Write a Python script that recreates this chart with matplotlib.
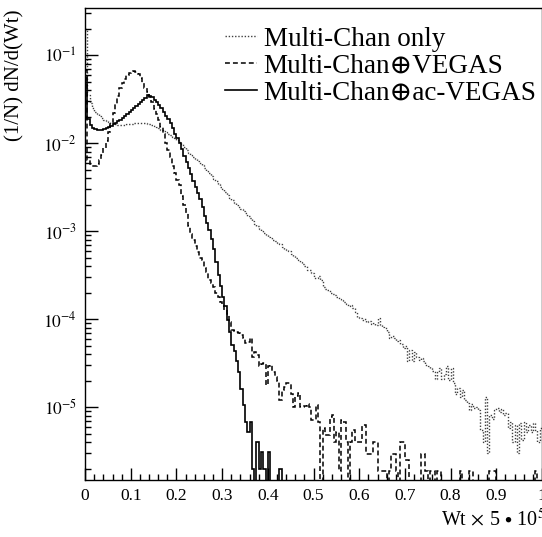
import numpy as np
import matplotlib
matplotlib.use("Agg")
import matplotlib.pyplot as plt
from matplotlib.ticker import FixedLocator, LogLocator, NullFormatter, MultipleLocator

plt.rcParams['font.family'] = ['Liberation Serif', 'DejaVu Serif']
plt.rcParams['mathtext.fontset'] = 'stix'

# histogram bin width (200 bins over [0, 1])
bin_w = 0.005

# Multi-Chan only (dotted)
mc_only = [
    0.2, 0.035, 0.0285, 0.025, 0.0225, 0.0214, 0.0203, 0.0192, 0.0182, 0.0178,
    0.0173, 0.0169, 0.0165, 0.0163, 0.016, 0.016, 0.016, 0.016, 0.0163, 0.0165,
    0.0165, 0.0167, 0.0167, 0.0169, 0.0169, 0.0169, 0.0167, 0.0165, 0.0163, 0.016,
    0.0156, 0.0152, 0.0148, 0.0142, 0.0137, 0.0132, 0.0127, 0.0122, 0.0117, 0.0113,
    0.0108, 0.0103, 0.0097, 0.009, 0.0083, 0.0077, 0.0073, 0.0069, 0.0066, 0.0063,
    0.0059, 0.0056, 0.0052, 0.0048, 0.0046, 0.0042, 0.0039, 0.0037, 0.0034, 0.0032,
    0.003, 0.0028, 0.0026, 0.0024, 0.00225, 0.0021, 0.0020, 0.0019, 0.0018, 0.0017,
    0.0016, 0.0015, 0.0014, 0.00129, 0.0012, 0.00114, 0.00105, 0.001, 0.00095, 0.0009,
    8.5e-4, 8.3e-4, 7.9e-4, 7.7e-4, 7.3e-4, 7.1e-4, 6.6e-4, 6.2e-4, 6.1e-4, 5.9e-4,
    5.5e-4, 5.2e-4, 5.0e-4, 4.7e-4, 4.4e-4, 4.2e-4, 4.0e-4, 3.6e-4, 3.6e-4, 3.3e-4,
    2.9e-4, 2.9e-4, 3.1e-4, 2.8e-4, 2.3e-4, 2.2e-4, 2.15e-4, 2.0e-4, 1.95e-4, 1.9e-4,
    1.8e-4, 1.7e-4, 1.64e-4, 1.55e-4, 1.5e-4, 1.42e-4, 1.46e-4, 1.35e-4, 1.2e-4, 1.06e-4,
    1.03e-4, 9.7e-5, 1.0e-4, 9.2e-5, 9.4e-5, 8.8e-5, 9.0e-5, 8.6e-5, 1.03e-4, 8.5e-5,
    8.2e-5, 7.9e-5, 7.2e-5, 6.1e-5, 6.4e-5, 6.1e-5, 5.6e-5, 5.8e-5, 5.2e-5, 4.7e-5,
    4.9e-5, 3.3e-5, 4.4e-5, 3.3e-5, 4.2e-5, 3.7e-5, 3.4e-5, 3.6e-5, 3.3e-5, 3.0e-5,
    2.9e-5, 2.8e-5, 2.6e-5, 2.1e-5, 2.5e-5, 2.8e-5, 2.1e-5, 2.4e-5, 2.9e-5, 2.05e-5,
    2.8e-5, 1.9e-5, 1.4e-5, 1.65e-5, 1.3e-5, 1.56e-5, 1.2e-5, 1.1e-5, 9.2e-6, 1.07e-5,
    9.7e-6, 1.0e-5, 9.2e-6, 5.5e-6, 4.0e-6, 1.3e-5, 3.0e-6, 8.1e-6, 7.4e-6, 9.2e-6,
    9.7e-6, 8.8e-6, 9.4e-6, 8.1e-6, 8.5e-6, 5.8e-6, 6.8e-6, 4.0e-6, 6.3e-6, 3.0e-6,
    6.6e-6, 4.2e-6, 6.8e-6, 5.2e-6, 6.3e-6, 5.2e-6, 6.6e-6, 5.5e-6, 4.0e-6, 5.8e-6,
]

# Multi-Chan + VEGAS (dashed)
mc_vegas = [
    0.067, 0.0064, 0.0058, 0.0055, 0.0055, 0.0058, 0.0064, 0.0073, 0.0088, 0.0105,
    0.0133, 0.0169, 0.022, 0.0277, 0.0342, 0.0422, 0.048, 0.0533, 0.0593, 0.0624,
    0.065, 0.0658, 0.064, 0.0608, 0.0548, 0.048, 0.0422, 0.038, 0.0333, 0.0293,
    0.0243, 0.0214, 0.0182, 0.0152, 0.0127, 0.0100, 0.0083, 0.0069, 0.0055, 0.0046,
    0.0038, 0.0033, 0.0025, 0.0020, 0.0016, 0.00114, 0.00093, 0.00079, 0.00068, 0.00058,
    0.0005, 0.00047, 0.00038, 0.00034, 0.00028, 0.00026, 0.00023, 1.96e-4, 1.8e-4, 1.55e-4,
    1.42e-4, 1.27e-4, 1.13e-4, 9.3e-5, 7.5e-5, 7.3e-5, 7.1e-5, 7.0e-5, 6.6e-5, 6.1e-5,
    5.3e-5, 5.5e-5, 6.1e-5, 3.7e-5, 4.2e-5, 3.9e-5, 2.9e-5, 3.1e-5, 3.2e-5, 1.77e-5,
    2.9e-5, 3.0e-5, 2.5e-5, 2.2e-5, 2.0e-5, 1.2e-5, 1.56e-5, 1.7e-5, 1.9e-5, 1.9e-5,
    1.4e-5, 1.01e-5, 1.32e-5, 1.45e-5, 1.01e-5, 1.01e-5, 1.02e-5, 1.07e-5, 1.01e-5, 7.1e-6,
    7.1e-6, 1.05e-5, 6.8e-6, 0, 5.8e-6, 4.8e-6, 4.8e-6, 7.8e-6, 8.1e-6, 4.0e-6,
    5.2e-6, 1.9e-6, 7.1e-6, 6.8e-6, 4.0e-6, 0, 4.0e-6, 5.5e-6, 4.0e-6, 4.0e-6,
    4.0e-6, 6.2e-6, 6.2e-6, 2.9e-6, 2.9e-6, 2.9e-6, 4.0e-6, 4.0e-6, 1.9e-6, 1.9e-6,
    1.9e-6, 1.9e-6, 0, 1.9e-6, 2.9e-6, 2.9e-6, 1.9e-6, 0, 4.0e-6, 4.0e-6,
    2.5e-6, 2.5e-6, 0, 0, 0, 0, 0, 2.9e-6, 2.9e-6, 1.9e-6,
    0, 1.9e-6, 1.9e-6, 0, 1.9e-6, 1.9e-6, 0, 0, 0, 0,
    0, 0, 0, 0, 1.9e-6, 0, 0, 0, 1.9e-6, 1.9e-6,
    0, 0, 0, 0, 0, 0, 0, 1.9e-6, 1.9e-6, 1.9e-6,
    0, 0, 0, 0, 0, 0, 0, 0, 0, 0,
    0, 0, 0, 0, 0, 0, 0, 1.9e-6, 0, 0,
]

# Multi-Chan + ac-VEGAS (solid)
mc_acvegas = [
    0.055, 0.019, 0.016, 0.0148, 0.0144, 0.0141, 0.014, 0.0142, 0.0145, 0.0148,
    0.0152, 0.0157, 0.0163, 0.0169, 0.0176, 0.0182, 0.0192, 0.0203, 0.0214, 0.0225,
    0.0237, 0.025, 0.0263, 0.0277, 0.0295, 0.031, 0.0328, 0.035, 0.0343, 0.033,
    0.0312, 0.0293, 0.027, 0.0247, 0.0225, 0.0205, 0.0188, 0.0169, 0.0148, 0.0128,
    0.0114, 0.0100, 0.0086, 0.0072, 0.0061, 0.0052, 0.0045, 0.0037, 0.0032, 0.0027,
    0.0023, 0.0019, 0.0015, 0.00122, 0.00103, 0.00081, 0.00062, 0.00044, 0.00032, 0.00024,
    1.8e-4, 1.4e-4, 9.7e-5, 7.1e-5, 5.1e-5, 4.3e-5, 3.3e-5, 2.5e-5, 1.6e-5, 1.05e-5,
    6.7e-6, 5.2e-6, 6.8e-6, 2.0e-6, 0, 4.0e-6, 2.0e-6, 3.1e-6, 2.0e-6, 0,
    3.1e-6, 0, 0, 0, 0, 2.0e-6, 0, 0, 0, 0,
    0, 0, 0, 0, 0, 0, 0, 0, 0, 0,
    0, 0, 0, 0, 0, 0, 0, 0, 0, 0,
    0, 0, 0, 0, 0, 0, 0, 0, 0, 0,
    0, 0, 0, 0, 0, 0, 0, 0, 0, 0,
    0, 0, 0, 0, 0, 0, 0, 0, 0, 0,
    0, 0, 0, 0, 0, 0, 0, 0, 0, 0,
    0, 0, 0, 0, 0, 0, 0, 0, 0, 0,
    0, 0, 0, 0, 0, 0, 0, 0, 0, 0,
    0, 0, 0, 0, 0, 0, 0, 0, 0, 0,
    0, 0, 0, 0, 0, 0, 0, 0, 0, 0,
    0, 0, 0, 0, 0, 0, 0, 0, 0, 0,
]

labels = ['Multi-Chan only', 'Multi-Chan\u2295VEGAS', 'Multi-Chan\u2295ac-VEGAS']
x_ticks = [0, 0.1, 0.2, 0.3, 0.4, 0.5, 0.6, 0.7, 0.8, 0.9, 1]
x_ticklabels = ['0', '0.1', '0.2', '0.3', '0.4', '0.5', '0.6', '0.7', '0.8', '0.9', '1']
y_ticks = [1e-5, 1e-4, 1e-3, 1e-2, 1e-1]
y_ticklabels = [r'$10^{-5}$', r'$10^{-4}$', r'$10^{-3}$', r'$10^{-2}$', r'$10^{-1}$']

fig = plt.figure(figsize=(5.42, 5.37), dpi=100)
ax = fig.add_axes([0.157, 0.106, 0.843, 0.879])

styles = [dict(ls=(0, (1, 1.3)), lw=1.0, color='0.25'),
          dict(ls=(0, (3.2, 2.0)), lw=1.1, color='black'),
          dict(ls='-', lw=1.2, color='black')]

for vals, lab, st in zip([mc_only, mc_vegas, mc_acvegas], labels, styles):
    v = np.array(vals, dtype=float)
    v = np.where(v > 0, v, 1e-9)   # empty bins drop to the axis as in ROOT
    edges = np.arange(len(v) + 1) * bin_w
    ax.stairs(v, edges, baseline=None, label=lab, linestyle=st['ls'],
              linewidth=st['lw'], color=st['color'])

ax.set_yscale('log')
ax.set_xlim(0, 1)
ax.set_ylim(1.48e-6, 0.342)

ax.xaxis.set_major_locator(FixedLocator(x_ticks))
ax.set_xticklabels(x_ticklabels)
ax.xaxis.set_minor_locator(MultipleLocator(0.02))
ax.yaxis.set_major_locator(FixedLocator(y_ticks))
ax.set_yticklabels(y_ticklabels)
ax.yaxis.set_minor_locator(LogLocator(base=10, subs=np.arange(2, 10), numticks=20))
ax.yaxis.set_minor_formatter(NullFormatter())

ax.tick_params(which='both', direction='in', top=False, right=False, width=1.0)
ax.tick_params(which='major', length=9, labelsize=12.5, pad=6)
ax.tick_params(which='minor', length=4.5)
for s in ax.spines.values():
    s.set_linewidth(1.0)

fig.text(0.028, 0.982, '(1/N) dN/d(Wt)', rotation=90, ha='center', va='top', fontsize=15)
fig.text(1.006, 0.012, r'Wt$\,\times\,$5$\,\bullet\,$10$^{5}$', ha='right', va='bottom', fontsize=14.5)

leg = ax.legend(loc='upper left', bbox_to_anchor=(0.307, 0.96), frameon=False,
                fontsize=19.5, handlelength=1.15, handletextpad=0.26,
                labelspacing=0.07, borderpad=0, borderaxespad=0)

fig.savefig('out.png', dpi=100)
